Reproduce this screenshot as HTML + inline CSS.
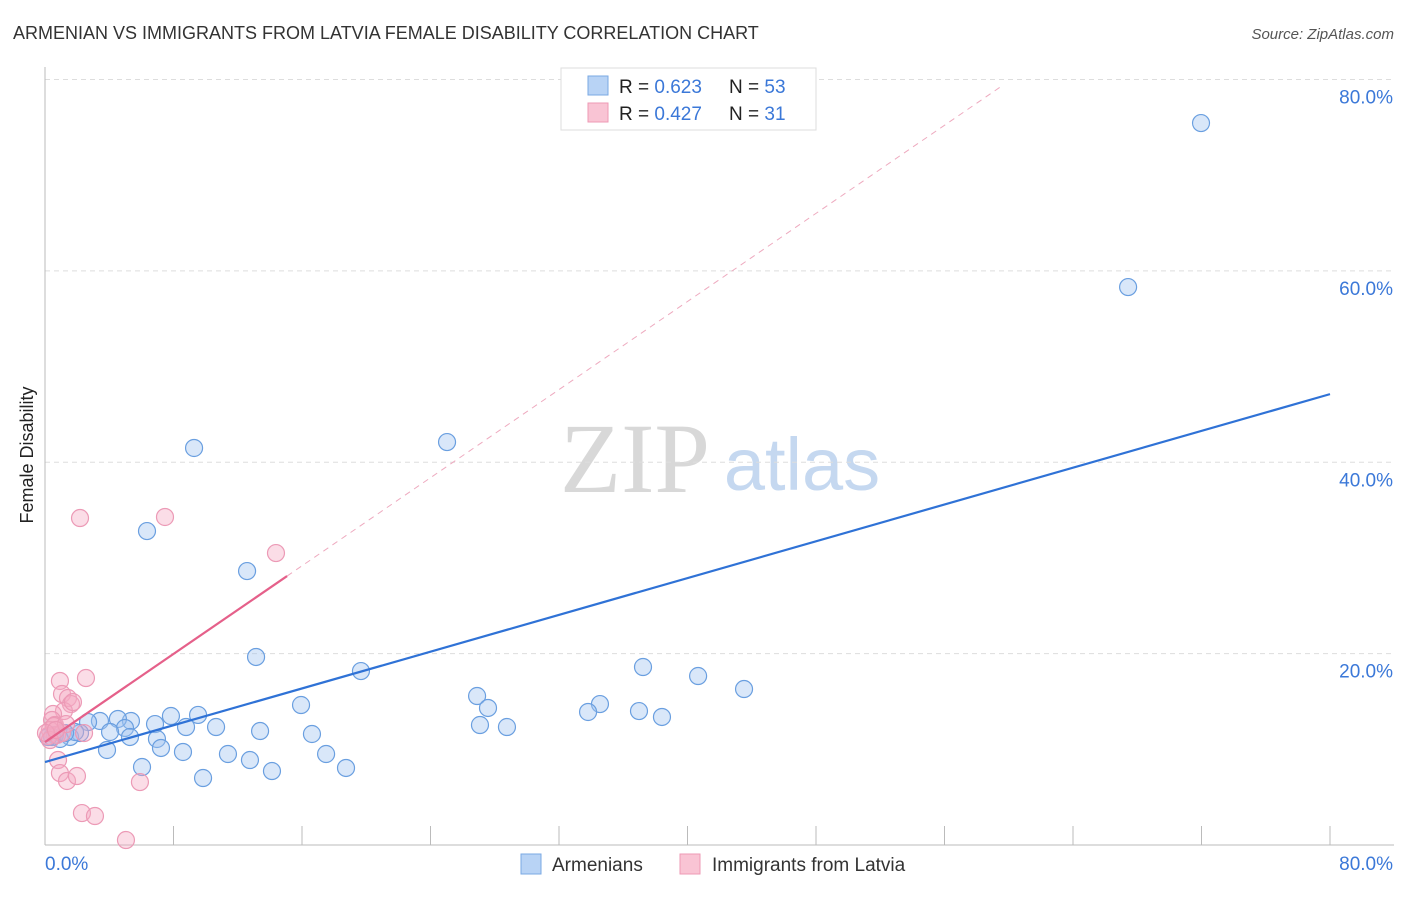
<!DOCTYPE html>
<html><head><meta charset="utf-8"><style>
body{margin:0;background:#fff;font-family:"Liberation Sans",sans-serif;}
svg text{font-family:"Liberation Sans",sans-serif;}
</style></head><body>
<svg id="chart" width="1406" height="892" viewBox="0 0 1406 892" xmlns="http://www.w3.org/2000/svg">
<text x="13" y="39" font-size="18" fill="#333">ARMENIAN VS IMMIGRANTS FROM LATVIA FEMALE DISABILITY CORRELATION CHART</text>
<text x="1394" y="39" font-size="15" fill="#555" font-style="italic" text-anchor="end">Source: ZipAtlas.com</text>
<text x="33" y="455" font-size="18" fill="#222" transform="rotate(-90 33 455)" text-anchor="middle">Female Disability</text>
<g>
<text x="635" y="492" font-size="100" fill="#d8d8d8" text-anchor="middle" style="font-family:'Liberation Serif',serif">ZIP</text>
<text x="802" y="490" font-size="74" fill="#c5d8f0" text-anchor="middle">atlas</text>
</g>
<g id="grid"></g>
<g id="axes"></g>
<g id="lines"></g>
<g id="pts"></g>
<g>
<rect x="561" y="68" width="255" height="62" fill="#fff" stroke="#ddd"/>
<rect x="588" y="76" width="20" height="19" fill="#b8d3f5" stroke="#7aa8e3"/>
<rect x="588" y="103" width="20" height="19" fill="#f9c4d4" stroke="#ee9ab5"/>
<text x="619" y="93" font-size="19" fill="#222">R = <tspan fill="#3b78d8">0.623</tspan></text>
<text x="729" y="93" font-size="19" fill="#222">N = <tspan fill="#3b78d8">53</tspan></text>
<text x="619" y="120" font-size="19" fill="#222">R = <tspan fill="#3b78d8">0.427</tspan></text>
<text x="729" y="120" font-size="19" fill="#222">N = <tspan fill="#3b78d8"> 31</tspan></text>
</g>
<g>
<rect x="521" y="854" width="20" height="20" fill="#b8d3f5" stroke="#7aa8e3"/>
<text x="552" y="871" font-size="19" fill="#333">Armenians</text>
<rect x="680" y="854" width="20" height="20" fill="#f9c4d4" stroke="#ee9ab5"/>
<text x="712" y="871" font-size="19" fill="#333">Immigrants from Latvia</text>
</g>
</svg>
<script>
const xTicks=[0,8,16,24,32,40,48,56,64,72,80];
const yTicks=[20,40,60,80];
const yTickLabels=["20.0%","40.0%","60.0%","80.0%"];
const blueX=[71.97,67.43,25.03,9.28,6.35,12.58,13.14,19.67,37.23,40.66,43.52,26.90,27.58,34.55,33.81,36.98,38.41,15.94,27.08,28.76,16.62,13.39,10.65,9.53,7.84,6.85,8.78,5.35,4.54,3.42,2.68,4.98,5.29,6.97,7.22,8.59,3.86,11.39,12.76,17.50,9.84,6.04,14.13,18.74,2.18,1.56,0.93,0.62,0.44,1.87,1.25,4.05,0.19];
const blueY=[75.45,58.31,42.11,41.49,32.81,28.63,19.65,18.18,18.60,17.66,16.30,15.57,14.32,14.73,13.90,14.00,13.38,14.63,12.54,12.33,11.60,11.91,12.33,13.59,13.48,12.64,12.33,12.96,13.17,12.96,12.85,12.23,11.29,11.08,10.14,9.72,9.93,9.51,8.88,9.51,7.00,8.15,7.73,8.05,11.70,11.29,11.08,11.50,11.29,11.81,11.70,11.81,11.29];
const pinkX=[2.18,7.47,14.38,0.93,2.55,1.06,1.43,1.62,1.18,0.50,0.44,0.62,0.31,0.19,0.75,2.43,1.06,0.81,0.93,1.37,1.99,5.91,2.30,3.11,5.04,0.56,1.31,0.31,1.74,0.06,0.68];
const pinkY=[34.17,34.28,30.51,17.14,17.45,15.78,15.36,14.73,14.00,13.69,13.06,12.54,12.02,11.39,11.50,11.70,11.70,8.88,7.52,6.69,7.21,6.58,3.34,3.03,0.52,12.44,12.64,10.97,14.94,11.70,12.02];
const blueTrend=[8.67,47.12];
const pinkTrend=[10.76,1.151];
const pinkSolidEnd=15.07, pinkDashEnd=59.46;
const X=v=>45+v/80*1285, Y=v=>845-v/80*765.5;
const NS="http://www.w3.org/2000/svg";
function mk(p,t,a){const e=document.createElementNS(NS,t);for(const k in a)e.setAttribute(k,a[k]);document.getElementById(p).appendChild(e);return e;}
yTicks.forEach((t,i)=>{
 const l=mk('grid','line',{x1:45,x2:1394,y1:Y(t),y2:Y(t),stroke:'#ddd','stroke-dasharray':'5,4'});
 
 
 const tx=mk('axes','text',{x:1393,y:Y(t)+24,'font-size':19,fill:'#3b78d8','text-anchor':'end'});
 tx.textContent=yTickLabels[i];
 
 
});
const ax=mk('axes','line',{x1:45,x2:45,y1:67,y2:845,stroke:'#bbb'});


const bx=mk('axes','line',{x1:45,x2:1394,y1:845,y2:845,stroke:'#bbb'});


xTicks.forEach(t=>{const l=mk('axes','line',{x1:X(t),x2:X(t),y1:826,y2:845,stroke:'#bbb'});
 
 });
const x0=mk('axes','text',{x:45,y:870,'font-size':19,fill:'#3b78d8'});x0.textContent='0.0%';


const x1=mk('axes','text',{x:1393,y:870,'font-size':19,fill:'#3b78d8','text-anchor':'end'});x1.textContent='80.0%';


const pd=mk('lines','line',{x1:X(pinkSolidEnd),y1:Y(pinkTrend[0]+pinkTrend[1]*pinkSolidEnd),x2:X(pinkDashEnd),y2:Y(pinkTrend[0]+pinkTrend[1]*pinkDashEnd),stroke:'#eeaabf','stroke-width':1,'stroke-dasharray':'6,5'});


blueX.forEach((v,i)=>{const c=mk('pts','circle',{cx:X(v),cy:Y(blueY[i]),r:8.5,fill:'rgba(160,196,240,0.4)',stroke:'#6a9fe0','stroke-width':1.2});
 
 });
pinkX.forEach((v,i)=>{const c=mk('pts','circle',{cx:X(v),cy:Y(pinkY[i]),r:8.5,fill:'rgba(245,170,195,0.4)',stroke:'#ec9ab6','stroke-width':1.2});
 
 });
const bl=mk('pts','line',{x1:X(0),y1:Y(blueTrend[0]),x2:X(80),y2:Y(blueTrend[1]),stroke:'#2f72d6','stroke-width':2.2});


const pl=mk('pts','line',{x1:X(0),y1:Y(pinkTrend[0]),x2:X(pinkSolidEnd),y2:Y(pinkTrend[0]+pinkTrend[1]*pinkSolidEnd),stroke:'#e5608a','stroke-width':2.2});


</script>
</body></html>
